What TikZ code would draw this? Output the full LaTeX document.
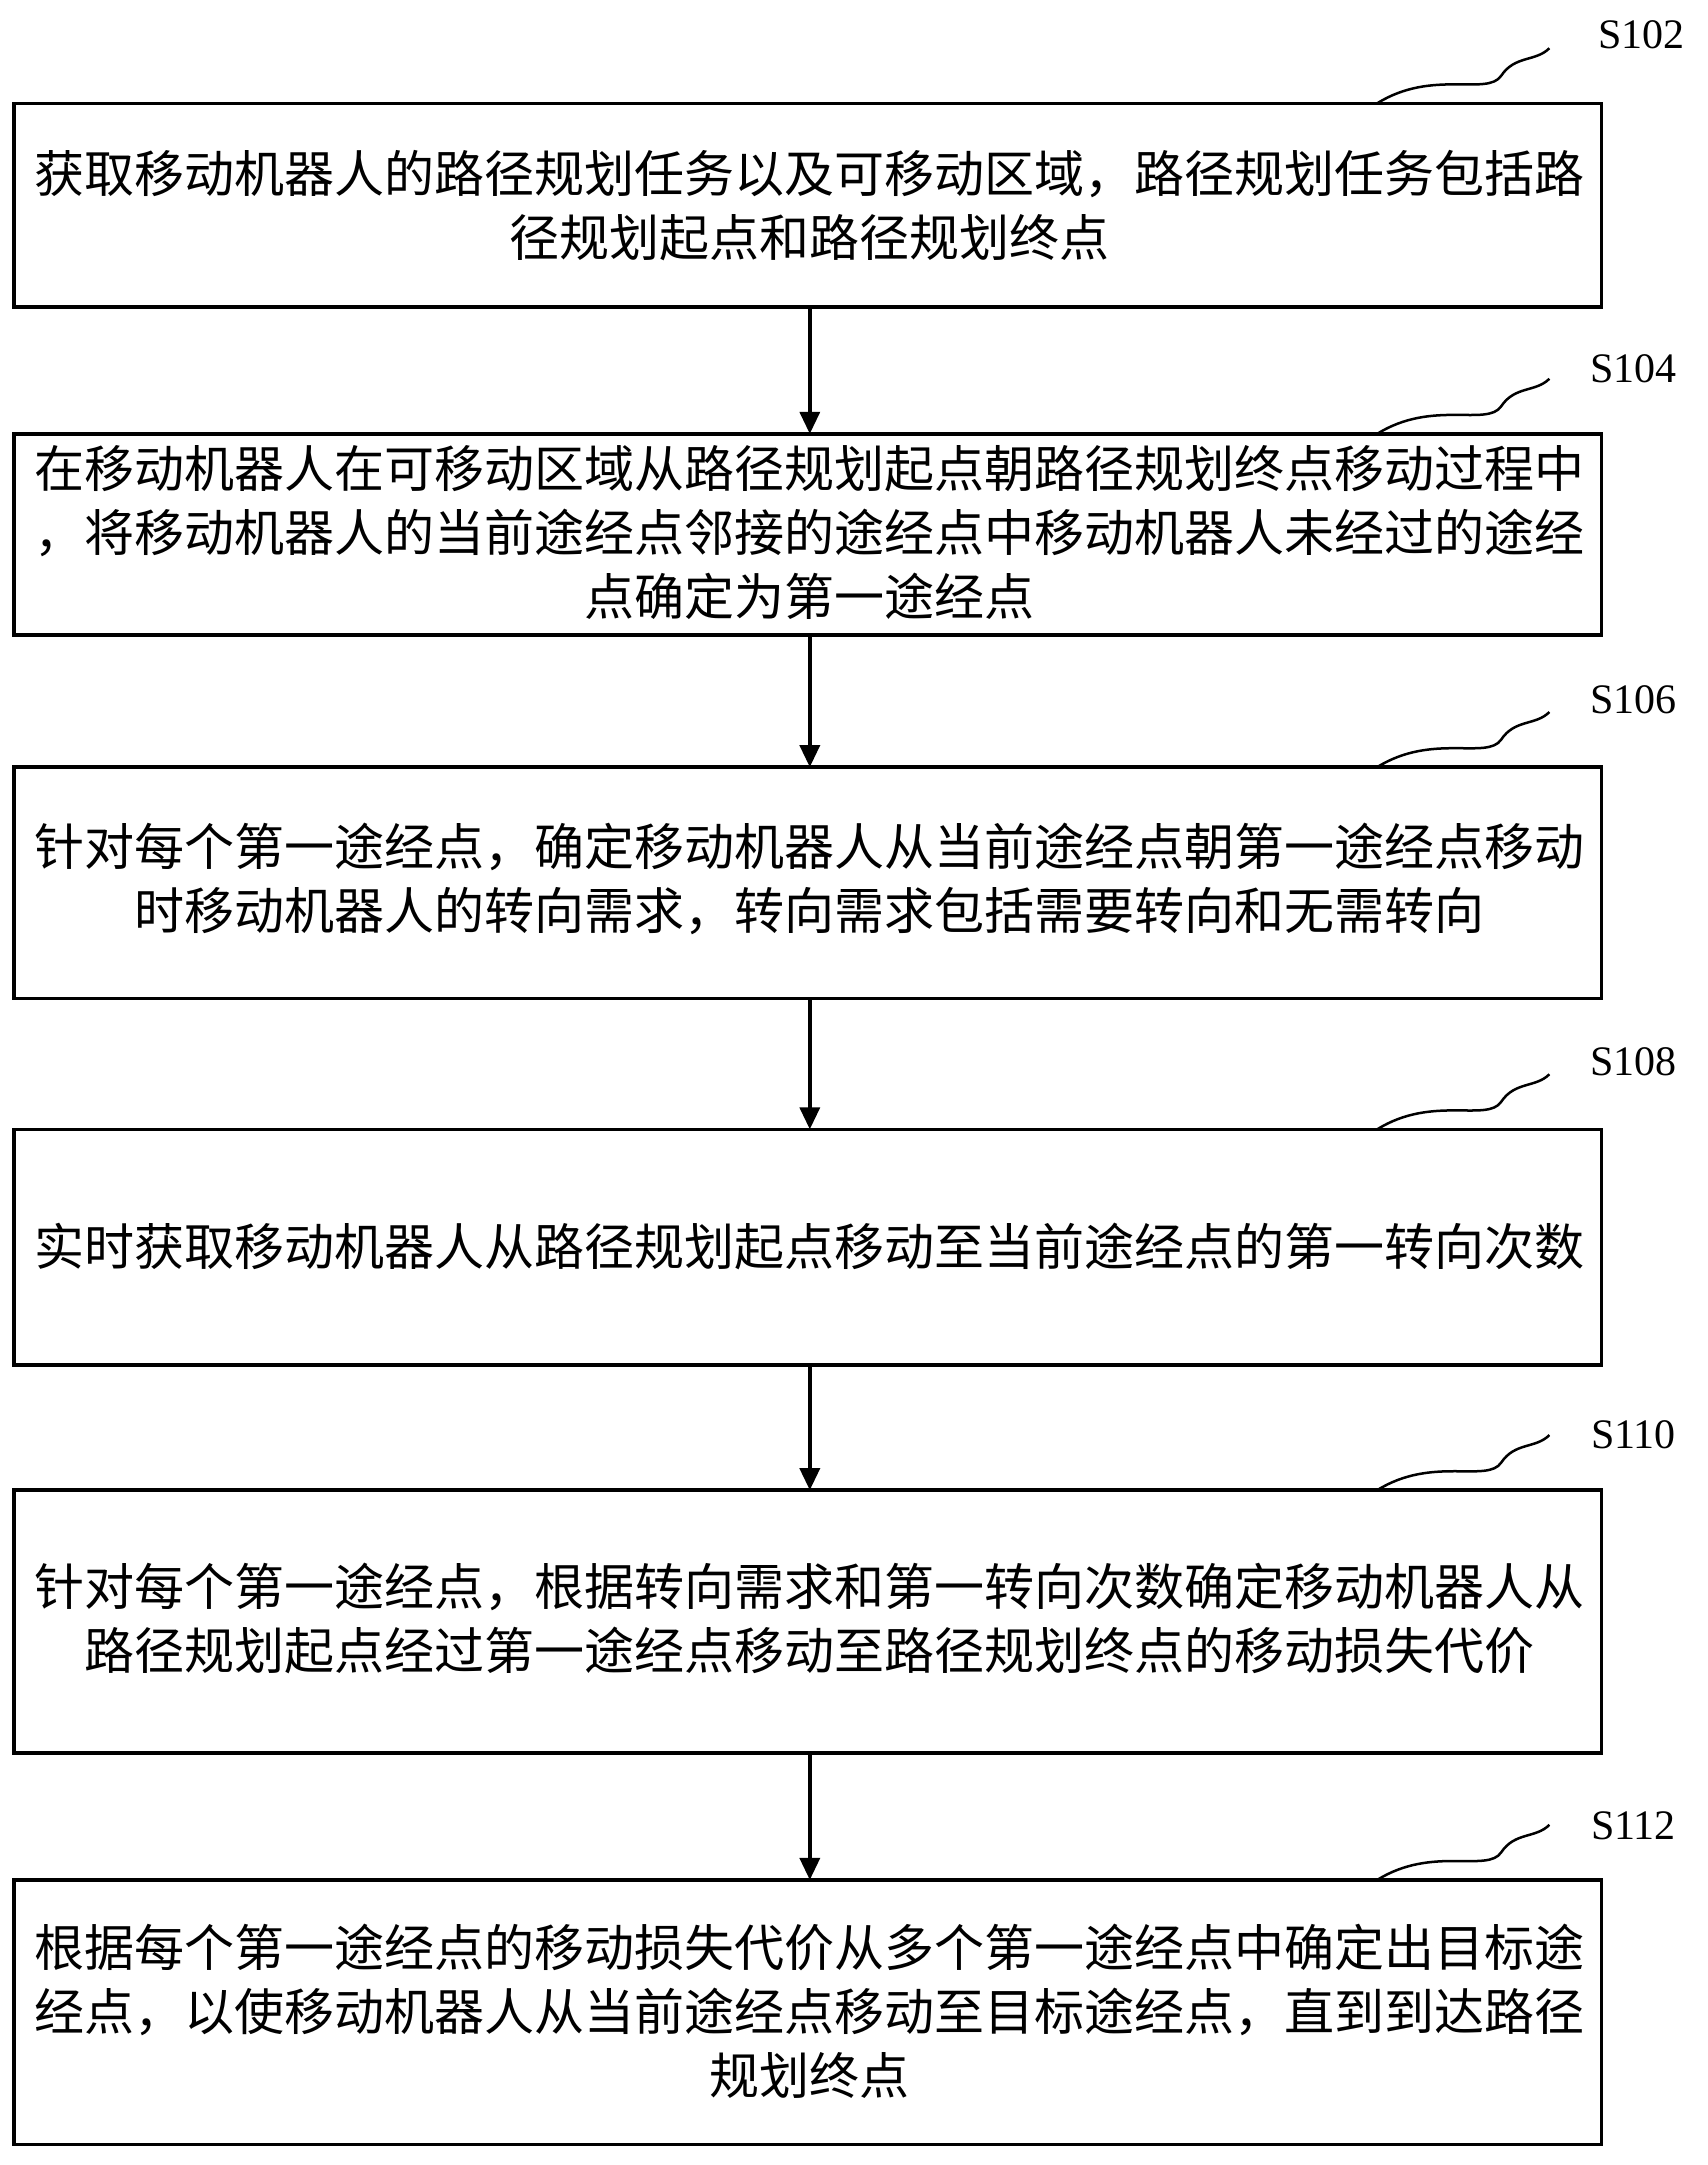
\documentclass[tikz,border=0pt]{standalone}
\usepackage{fontspec}
\setmainfont{Liberation Serif}
\newfontfamily\cjk{Noto Sans CJK SC}
\usetikzlibrary{arrows.meta}
\begin{document}
\begin{tikzpicture}[x=1.377pt,y=-1.377pt,
 box/.style={draw,line width=3.5pt,inner sep=0},
 txt/.style={font=\cjk\fontsize{50}{64}\selectfont,align=center,inner sep=0},
 lab/.style={font=\fontsize{42}{42}\selectfont,inner sep=0},
 arr/.style={line width=3.5pt,-{Triangle[length=22pt,width=20pt]}},
 wav/.style={line width=2.5pt}]
\useasboundingbox (0,0) rectangle (1240,1572);
\def\B#1#2#3{\draw[box] (10,#2) rectangle (1163,#3); \coordinate (#1t) at (588,#2); \coordinate (#1b) at (588,#3);
 \draw[wav] (1000,#2) .. controls (1040,{#2-25}) and (1080,{#2-5}) .. (1090,{#2-20}) .. controls (1100,{#2-35}) and (1115,{#2-30}) .. (1125,{#2-40});}
\B{a}{75}{223}
\B{b}{315}{461}
\B{c}{557}{725}
\B{d}{820}{991}
\B{e}{1082}{1273}
\B{f}{1365}{1557}
\node[txt] (ta) at (588,149) {获取移动机器人的路径规划任务以及可移动区域，路径规划任务包括路\\径规划起点和路径规划终点};
\node[txt] (tb) at (588,387) {在移动机器人在可移动区域从路径规划起点朝路径规划终点移动过程中\\，将移动机器人的当前途经点邻接的途经点中移动机器人未经过的途经\\点确定为第一途经点};
\node[txt] (tc) at (588,638) {针对每个第一途经点，确定移动机器人从当前途经点朝第一途经点移动\\时移动机器人的转向需求，转向需求包括需要转向和无需转向};
\node[txt] (td) at (588,905) {实时获取移动机器人从路径规划起点移动至当前途经点的第一转向次数};
\node[txt] (te) at (588,1175) {针对每个第一途经点，根据转向需求和第一转向次数确定移动机器人从\\路径规划起点经过第一途经点移动至路径规划终点的移动损失代价};
\node[txt] (tf) at (588,1460) {根据每个第一途经点的移动损失代价从多个第一途经点中确定出目标途\\经点，以使移动机器人从当前途经点移动至目标途经点，直到到达路径\\规划终点};
\node[lab] (la) at (1192,25) {S102};
\node[lab] (lb) at (1186,268) {S104};
\node[lab] (lc) at (1186,508) {S106};
\node[lab] (ld) at (1186,771) {S108};
\node[lab] (le) at (1186,1042) {S110};
\node[lab] (lf) at (1186,1326) {S112};
\draw[arr] (ab) -- (bt);
\draw[arr] (bb) -- (ct);
\draw[arr] (cb) -- (dt);
\draw[arr] (db) -- (et);
\draw[arr] (eb) -- (ft);
\end{tikzpicture}
\end{document}
